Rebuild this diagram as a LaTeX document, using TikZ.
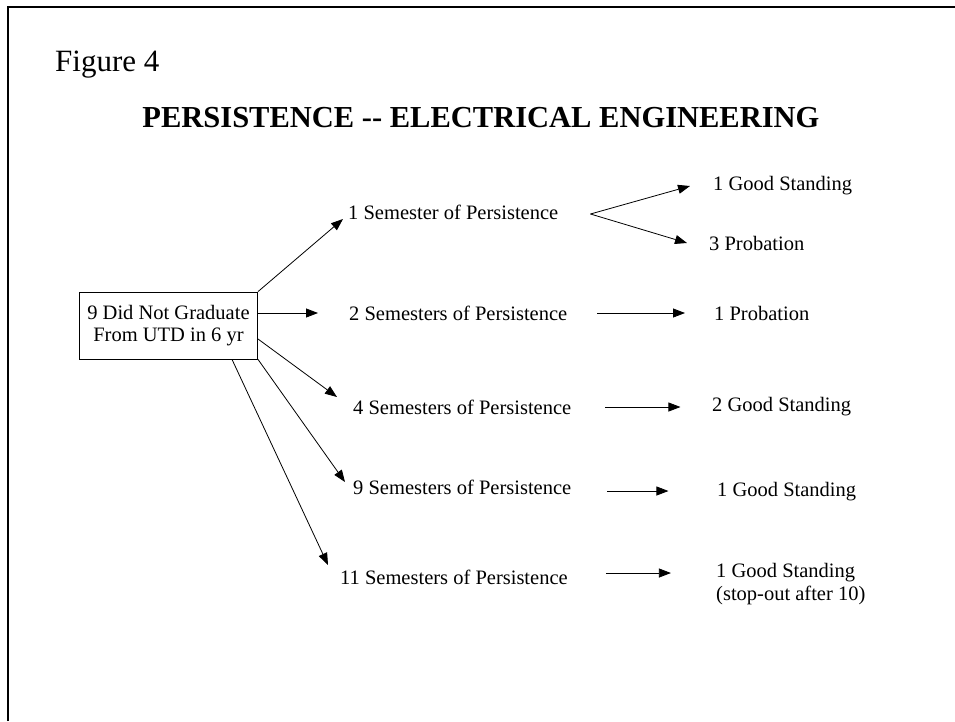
\documentclass[tikz,border=0pt]{standalone}
\usepackage{fontspec}
\setmainfont{Liberation Serif}
\usetikzlibrary{arrows.meta}
\tikzstyle{line} = [draw, -{Triangle[length=12pt,width=9pt]}, line width=0.8pt]
\tikzstyle{lbl} = [anchor=west, inner sep=0pt, font=\fontsize{20.5}{23}\selectfont]

\begin{document}
\begin{tikzpicture}[x=1pt,y=-1pt]
	\useasboundingbox (0,0) rectangle (955,721);
	\draw[line width=2pt] (8,721) -- (8,7) -- (955,7);

	\node[anchor=base west, inner sep=0pt, font=\fontsize{31}{36}\selectfont] (fig) at (55,71) {Figure 4};
	\node[anchor=base, inner sep=0pt, font=\fontsize{30.5}{36}\selectfont\bfseries] (title) at (481,127) {PERSISTENCE -{}- ELECTRICAL ENGINEERING};

	% ------------------- Starting box ------------------- %
	\node[draw, line width=0.8pt, anchor=east, align=center, minimum height=67pt, inner xsep=8pt,
		font=\fontsize{20.5}{22.5}\selectfont] (start) at (258,325.5) {9 Did Not Graduate\\From UTD in 6 yr};

	% ------------------- Semesters ------------------- %
	\node[lbl] (sem1) at (348,212) {1 Semester of Persistence};
	\node[lbl] (sem2) at (349,313) {2 Semesters of Persistence};
	\node[lbl] (sem4) at (353,407) {4 Semesters of Persistence};
	\node[lbl] (sem9) at (353,487) {9 Semesters of Persistence};
	\node[lbl] (sem11) at (340,577) {11 Semesters of Persistence};

	% ------------------- Outcomes ------------------- %
	\node[lbl] (res1a) at (713,186) {1 Good Standing};
	\node[lbl] (res1b) at (709,243) {3 Probation};
	\node[lbl] (res2) at (714,313) {1 Probation};
	\node[lbl] (res4) at (712,407) {2 Good Standing};
	\node[lbl] (res9) at (717,492) {1 Good Standing};
	\node[lbl, align=left] (res11) at (716,584) {1 Good Standing\\(stop-out after 10)};

	% ------------------- Arrows from the box ------------------- %
	\path[line] (start.north east) -- ([xshift=-5pt,yshift=-7pt]sem1.west);
	\path[line] (start.east |- sem2.west) -- ([xshift=-31pt]sem2.west);
	\path[line] ([yshift=-13.5pt]start.east) -- ([xshift=-16pt,yshift=10pt]sem4.west);
	\path[line] (start.south east) -- ([xshift=-8pt,yshift=5pt]sem9.west);
	\path[line] ([xshift=-26pt]start.south east) -- ([xshift=-12pt,yshift=12pt]sem11.west);

	% ------------------- Arrows to the outcomes ------------------- %
	\coordinate (fork) at ([xshift=32pt,yshift=-2pt]sem1.east);
	\path[line] (fork) -- ([xshift=-23pt]res1a.west);
	\path[line] (fork) -- ([xshift=-22pt]res1b.west);
	\path[line] ([xshift=30pt]sem2.east) -- ([xshift=-29pt]res2.west);
	\path[line] ([xshift=34pt]sem4.east) -- +(75,0);
	\path[line] ([xshift=36pt,yshift=-4pt]sem9.east) -- +(61,0);
	\path[line] ([xshift=38pt,yshift=4pt]sem11.east) -- +(65,0);
\end{tikzpicture}
\end{document}
